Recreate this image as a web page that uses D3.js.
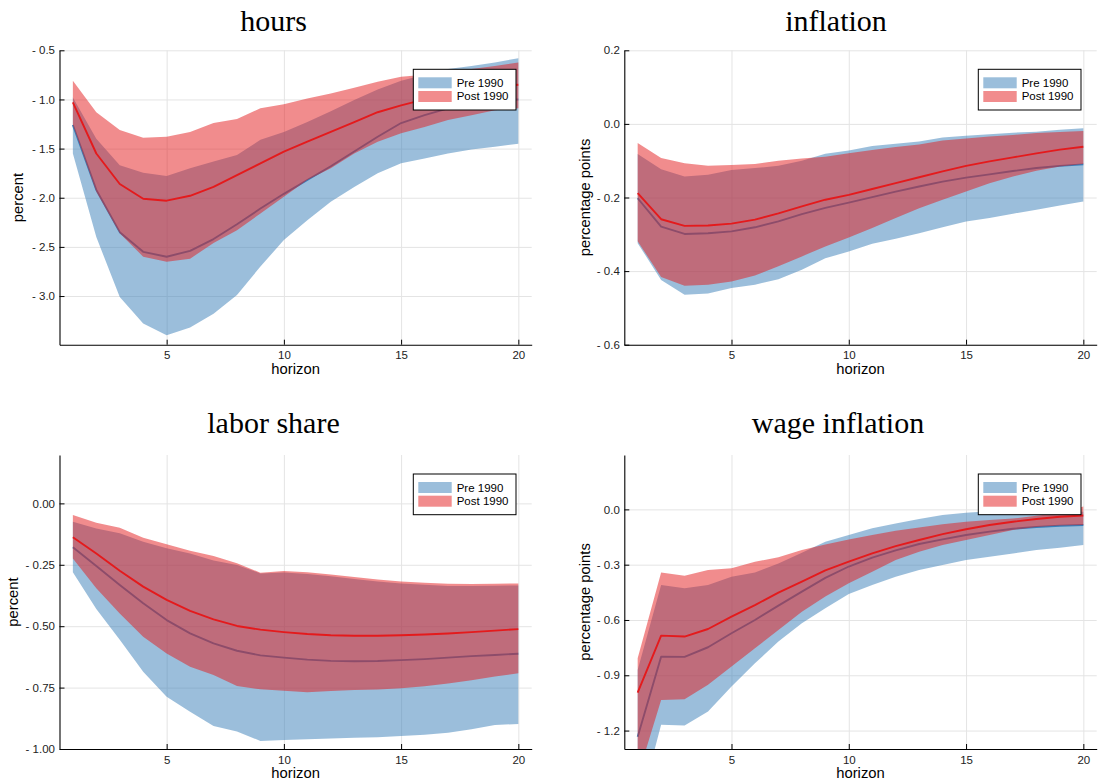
<!DOCTYPE html>
<html><head><meta charset="utf-8">
<script src="https://cdn.jsdelivr.net/npm/d3@7"></script>
<style>body{margin:0;background:#fff}svg{display:block}</style>
</head><body>
<svg id="c" width="1098" height="784"></svg>
<script>
// ---------------- data ----------------
const horizon = [1,2,3,4,5,6,7,8,9,10,11,12,13,14,15,16,17,18,19,20];
const xTickValues = [5,10,15,20];
const seriesNames = ["Pre 1990","Post 1990"];

// hours
const hoursPreMean = [-1.26,-1.92,-2.35,-2.55,-2.60,-2.54,-2.42,-2.27,-2.11,-1.96,-1.82,-1.68,-1.53,-1.38,-1.24,-1.16,-1.09,-1.04,-1.01,-1.00];
const hoursPreLo   = [-1.55,-2.40,-3.01,-3.28,-3.40,-3.32,-3.18,-2.99,-2.70,-2.43,-2.23,-2.04,-1.89,-1.75,-1.65,-1.60,-1.55,-1.51,-1.48,-1.45];
const hoursPreHi   = [-0.98,-1.40,-1.67,-1.745,-1.78,-1.70,-1.63,-1.565,-1.41,-1.33,-1.23,-1.12,-1.005,-0.90,-0.81,-0.75,-0.69,-0.66,-0.625,-0.58];
const hoursPostMean= [-1.03,-1.55,-1.86,-2.01,-2.03,-1.98,-1.89,-1.77,-1.65,-1.53,-1.43,-1.33,-1.23,-1.13,-1.06,-1.00,-0.94,-0.90,-0.87,-0.85];
const hoursPostLo  = [-1.26,-1.94,-2.36,-2.60,-2.65,-2.62,-2.46,-2.33,-2.16,-1.99,-1.82,-1.70,-1.55,-1.43,-1.345,-1.28,-1.21,-1.16,-1.11,-1.09];
const hoursPostHi  = [-0.81,-1.13,-1.31,-1.39,-1.38,-1.33,-1.24,-1.20,-1.09,-1.05,-0.99,-0.94,-0.88,-0.82,-0.77,-0.75,-0.72,-0.69,-0.66,-0.625];
const hoursTicks = [-0.5,-1.0,-1.5,-2.0,-2.5,-3.0];
const hoursTickLabels = ["- 0.5","- 1.0","- 1.5","- 2.0","- 2.5","- 3.0"];

// inflation
const inflPreMean = [-0.202,-0.279,-0.299,-0.297,-0.292,-0.281,-0.265,-0.245,-0.228,-0.214,-0.199,-0.184,-0.170,-0.157,-0.146,-0.137,-0.128,-0.120,-0.114,-0.110];
const inflPreLo   = [-0.324,-0.424,-0.464,-0.461,-0.446,-0.437,-0.422,-0.396,-0.365,-0.347,-0.326,-0.312,-0.297,-0.281,-0.265,-0.256,-0.244,-0.233,-0.222,-0.211];
const inflPreHi   = [-0.082,-0.123,-0.143,-0.138,-0.125,-0.120,-0.114,-0.100,-0.081,-0.072,-0.060,-0.054,-0.048,-0.037,-0.032,-0.028,-0.024,-0.021,-0.016,-0.012];
const inflPostMean= [-0.188,-0.259,-0.277,-0.276,-0.271,-0.260,-0.243,-0.224,-0.206,-0.193,-0.177,-0.161,-0.145,-0.129,-0.114,-0.102,-0.091,-0.080,-0.070,-0.062];
const inflPostLo  = [-0.319,-0.416,-0.440,-0.437,-0.428,-0.412,-0.387,-0.360,-0.333,-0.309,-0.283,-0.256,-0.229,-0.206,-0.184,-0.161,-0.143,-0.127,-0.116,-0.109];
const inflPostHi  = [-0.052,-0.093,-0.107,-0.114,-0.112,-0.109,-0.100,-0.094,-0.089,-0.080,-0.071,-0.063,-0.056,-0.045,-0.040,-0.034,-0.030,-0.025,-0.022,-0.019];
const inflTicks = [0.2,0.0,-0.2,-0.4,-0.6];
const inflTickLabels = ["0.2","0.0","- 0.2","- 0.4","- 0.6"];

// labor share
const laborPreMean = [-0.179,-0.255,-0.332,-0.407,-0.475,-0.529,-0.570,-0.600,-0.619,-0.628,-0.636,-0.641,-0.643,-0.642,-0.638,-0.634,-0.628,-0.622,-0.617,-0.612];
const laborPreLo   = [-0.280,-0.430,-0.555,-0.685,-0.787,-0.848,-0.906,-0.929,-0.967,-0.963,-0.960,-0.957,-0.954,-0.952,-0.947,-0.942,-0.934,-0.920,-0.902,-0.898];
const laborPreHi   = [-0.075,-0.102,-0.122,-0.156,-0.183,-0.204,-0.233,-0.251,-0.285,-0.281,-0.287,-0.297,-0.308,-0.318,-0.326,-0.331,-0.336,-0.336,-0.335,-0.334];
const laborPostMean= [-0.138,-0.204,-0.274,-0.339,-0.393,-0.438,-0.472,-0.499,-0.514,-0.524,-0.532,-0.537,-0.539,-0.539,-0.537,-0.534,-0.530,-0.524,-0.518,-0.512];
const laborPostLo  = [-0.224,-0.346,-0.448,-0.543,-0.611,-0.665,-0.699,-0.744,-0.757,-0.763,-0.769,-0.764,-0.760,-0.758,-0.753,-0.745,-0.733,-0.720,-0.705,-0.692];
const laborPostHi  = [-0.047,-0.079,-0.099,-0.140,-0.166,-0.193,-0.214,-0.244,-0.282,-0.275,-0.280,-0.290,-0.300,-0.310,-0.318,-0.323,-0.327,-0.328,-0.327,-0.326];
const laborTicks = [0.0,-0.25,-0.5,-0.75,-1.0];
const laborTickLabels = ["0.00","- 0.25","- 0.50","- 0.75","- 1.00"];

// wage inflation
const wagePreMean = [-1.233,-0.799,-0.800,-0.748,-0.672,-0.600,-0.522,-0.446,-0.372,-0.310,-0.262,-0.222,-0.188,-0.163,-0.139,-0.121,-0.105,-0.096,-0.089,-0.085];
const wagePreLo   = [-1.650,-1.169,-1.173,-1.097,-0.961,-0.835,-0.717,-0.618,-0.537,-0.459,-0.410,-0.365,-0.329,-0.302,-0.275,-0.257,-0.239,-0.220,-0.208,-0.193];
const wagePreHi   = [-0.871,-0.410,-0.428,-0.410,-0.365,-0.343,-0.293,-0.235,-0.175,-0.139,-0.103,-0.076,-0.052,-0.031,-0.018,-0.010,-0.004,-0.002,-0.005,-0.013];
const wagePostMean= [-0.994,-0.685,-0.690,-0.649,-0.582,-0.519,-0.452,-0.392,-0.331,-0.284,-0.239,-0.199,-0.166,-0.134,-0.108,-0.085,-0.067,-0.052,-0.040,-0.033];
const wagePostLo  = [-1.450,-1.034,-1.030,-0.952,-0.853,-0.754,-0.654,-0.555,-0.473,-0.401,-0.338,-0.275,-0.230,-0.193,-0.166,-0.139,-0.112,-0.095,-0.088,-0.085];
const wagePostHi  = [-0.808,-0.342,-0.360,-0.329,-0.320,-0.284,-0.260,-0.220,-0.190,-0.163,-0.139,-0.116,-0.098,-0.081,-0.067,-0.058,-0.050,-0.035,-0.020,0.015];
const wageTicks = [0.0,-0.3,-0.6,-0.9,-1.2];
const wageTickLabels = ["0.0","- 0.3","- 0.6","- 0.9","- 1.2"];

// ---------------- layout / style ----------------
const preColor = "#377eb8", postColor = "#e41a1c";
const sans = "'Liberation Sans', Arial, Helvetica, sans-serif";
const serif = "'Liberation Serif', 'Times New Roman', serif";
const xDomain = [0.43, 20.57];

const panels = [
  {title:"hours", ylabel:"percent", yDomain:[-3.495,-0.5], ticks:hoursTicks, labels:hoursTickLabels,
   pre:[hoursPreLo,hoursPreMean,hoursPreHi], post:[hoursPostLo,hoursPostMean,hoursPostHi],
   l:59.5, r:531.7, t:50.3, b:344.7, titleX:273.5, titleY:31, ylabX:23},
  {title:"inflation", ylabel:"percentage points", yDomain:[-0.6,0.2], ticks:inflTicks, labels:inflTickLabels,
   pre:[inflPreLo,inflPreMean,inflPreHi], post:[inflPostLo,inflPostMean,inflPostHi],
   l:624.3, r:1096.7, t:50.3, b:344.7, titleX:836, titleY:31, ylabX:590},
  {title:"labor share", ylabel:"percent", yDomain:[-1.0,0.197], ticks:laborTicks, labels:laborTickLabels,
   pre:[laborPreLo,laborPreMean,laborPreHi], post:[laborPostLo,laborPostMean,laborPostHi],
   l:59.5, r:531.7, t:455, b:749, titleX:273.5, titleY:433.3, ylabX:17.7},
  {title:"wage inflation", ylabel:"percentage points", yDomain:[-1.30,0.295], ticks:wageTicks, labels:wageTickLabels,
   pre:[wagePreLo,wagePreMean,wagePreHi], post:[wagePostLo,wagePostMean,wagePostHi],
   l:624.3, r:1096.7, t:455, b:749, titleX:838, titleY:433.3, ylabX:590}
];

const svg = d3.select("#c");

panels.forEach((p, i) => {
  const x = d3.scaleLinear().domain(xDomain).range([p.l, p.r]);
  const y = d3.scaleLinear().domain(p.yDomain).range([p.b, p.t]);
  const g = svg.append("g");
  const w = p.r - p.l, h = p.b - p.t;

  // grid
  g.append("g").attr("transform", `translate(0,${p.b})`)
    .call(d3.axisBottom(x).tickValues(xTickValues).tickSize(-h).tickFormat(""))
    .call(s => { s.select(".domain").remove(); s.selectAll("line").attr("stroke","#e4e4e4").attr("stroke-width",1); });
  g.append("g").attr("transform", `translate(${p.l},0)`)
    .call(d3.axisLeft(y).tickValues(p.ticks).tickSize(-w).tickFormat(""))
    .call(s => { s.select(".domain").remove(); s.selectAll("line").attr("stroke","#e4e4e4").attr("stroke-width",1); });

  // clip
  const cid = "clip" + i;
  svg.append("clipPath").attr("id", cid).append("rect")
    .attr("x", p.l).attr("y", p.t).attr("width", w).attr("height", h);
  const plot = g.append("g").attr("clip-path", `url(#${cid})`);

  const area = (lo, hi) => d3.area().x((d, j) => x(horizon[j])).y0((d, j) => y(lo[j])).y1((d, j) => y(hi[j]));
  const line = (m) => d3.line().x((d, j) => x(horizon[j])).y((d, j) => y(m[j]));

  [[p.pre, preColor], [p.post, postColor]].forEach(([s, col]) => {
    plot.append("path").datum(horizon).attr("d", area(s[0], s[2])(horizon))
      .attr("fill", col).attr("fill-opacity", 0.5).attr("stroke", "none");
    plot.append("path").datum(horizon).attr("d", line(s[1])(horizon))
      .attr("fill", "none").attr("stroke", col).attr("stroke-width", 1.9).attr("stroke-linejoin","round");
  });

  // axes
  const ax = g.append("g").attr("transform", `translate(0,${p.b})`)
    .call(d3.axisBottom(x).tickValues(xTickValues).tickSize(-5).tickSizeOuter(0).tickPadding(6.5));
  const ay = g.append("g").attr("transform", `translate(${p.l},0)`)
    .call(d3.axisLeft(y).tickValues(p.ticks).tickSize(-5).tickSizeOuter(0).tickPadding(4.5)
      .tickFormat((d, j) => p.labels[j]));
  [ax, ay].forEach(a => {
    a.selectAll("text").attr("font-family", sans).attr("font-size", 11.5).attr("fill", "#222");
    a.select(".domain").attr("stroke", "#000").attr("stroke-width", 1.1);
    a.selectAll(".tick line").attr("stroke", "#000");
  });

  // titles and labels
  svg.append("text").attr("x", p.titleX).attr("y", p.titleY).attr("text-anchor", "middle")
    .attr("font-family", serif).attr("font-size", 30).attr("fill", "#000").text(p.title);
  svg.append("text").attr("x", (p.l + p.r) / 2).attr("y", p.b + 29.3).attr("text-anchor", "middle")
    .attr("font-family", sans).attr("font-size", 14.8).attr("fill", "#000").text("horizon");
  svg.append("text").attr("transform", `translate(${p.ylabX},${(p.t + p.b) / 2}) rotate(-90)`)
    .attr("text-anchor", "middle").attr("font-family", sans).attr("font-size", 14.8).attr("fill", "#000")
    .text(p.ylabel);

  // legend
  const lw = 102.7, lh = 40.7;
  const lx = p.r - 15.7 - lw, ly = p.t + 19;
  const lg = svg.append("g").attr("transform", `translate(${lx},${ly})`);
  lg.append("rect").attr("width", lw).attr("height", lh).attr("fill", "#fff")
    .attr("stroke", "#000").attr("stroke-width", 1);
  [preColor, postColor].forEach((col, k) => {
    lg.append("rect").attr("x", 5).attr("y", 8 + k * 13.7).attr("width", 33.4).attr("height", 11)
      .attr("fill", col).attr("fill-opacity", 0.5);
    lg.append("text").attr("x", 43.4).attr("y", 17.6 + k * 13.4)
      .attr("font-family", sans).attr("font-size", 11.5).attr("fill", "#000").text(seriesNames[k]);
  });
});
</script>
</body></html>
